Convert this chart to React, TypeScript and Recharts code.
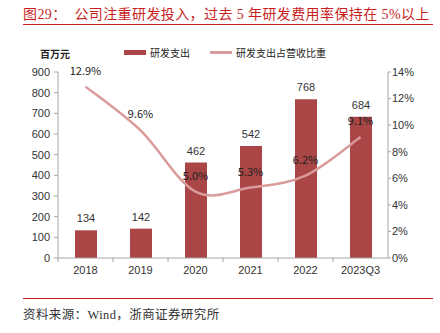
import { Bar, ComposedChart, LabelList, Line, XAxis, YAxis } from 'recharts'

const categories = ['2018', '2019', '2020', '2021', '2022', '2023Q3']
const spend = [134, 142, 462, 542, 768, 684]
const ratio = [12.9, 9.6, 5.0, 5.3, 6.2, 9.1]
const leftTicks = [0, 100, 200, 300, 400, 500, 600, 700, 800, 900]
const rightTicks = [0, 2, 4, 6, 8, 10, 12, 14]

const data = categories.map((c, i) => ({ name: c, spend: spend[i], ratio: ratio[i] }))

const BAR = '#AA4645'
const LINE = '#D99B9B'
const RED = '#C81E1E'
const AXIS = '#A6A6A6'
const W = 440
const H = 333
const LEFT_W = 58
const RIGHT_W = 52
const band = (W - LEFT_W - RIGHT_W) / categories.length

const tickFont = { fontSize: 11, fill: '#333', fontFamily: '"Liberation Sans", Arial, sans-serif' }

// Catmull-Rom style smoothing, close to the spreadsheet "smoothed line"
function smooth(context: any) {
  let pts: number[][] = []
  return {
    areaStart() {},
    areaEnd() {},
    lineStart() {
      pts = []
    },
    point(x: number, y: number) {
      pts.push([+x, +y])
    },
    lineEnd() {
      if (!pts.length) return
      context.moveTo(pts[0][0], pts[0][1])
      for (let i = 0; i < pts.length - 1; i++) {
        const p0 = pts[i - 1] || pts[i]
        const p1 = pts[i]
        const p2 = pts[i + 1]
        const p3 = pts[i + 2] || pts[i + 1]
        context.bezierCurveTo(
          p1[0] + (p2[0] - p0[0]) / 6,
          p1[1] + (p2[1] - p0[1]) / 6,
          p2[0] - (p3[0] - p1[0]) / 6,
          p2[1] - (p3[1] - p1[1]) / 6,
          p2[0],
          p2[1],
        )
      }
    },
  }
}

function XTick({ x, y, payload }: any) {
  return (
    <g>
      <line x1={x - band / 2} x2={x - band / 2} y1={y} y2={y + 4} stroke={AXIS} />
      <text x={x} y={y + 16} textAnchor="middle" {...tickFont}>
        {payload.value}
      </text>
    </g>
  )
}

export default function App() {
  return (
    <div
      style={{
        position: 'fixed',
        left: 0,
        top: 0,
        width: W,
        height: H,
        background: '#fff',
        fontFamily: '"Liberation Serif", "Noto Sans CJK SC", serif',
      }}
    >
      <div
        style={{
          position: 'absolute',
          left: 23,
          top: 3,
          fontSize: 14,
          letterSpacing: 0.4,
          color: RED,
          whiteSpace: 'nowrap',
        }}
      >
        图29：&nbsp;&nbsp;公司注重研发投入，过去 5 年研发费用率保持在 5%以上
      </div>
      <div style={{ position: 'absolute', left: 23, top: 24, width: 410, height: 1, background: RED }} />

      <div style={{ position: 'absolute', left: 40, top: 46, fontSize: 10, fontWeight: 'bold', color: '#222' }}>百万元</div>
      <div style={{ position: 'absolute', left: 124, top: 50, width: 22, height: 5, background: BAR }} />
      <div style={{ position: 'absolute', left: 150, top: 45, fontSize: 10, color: '#222' }}>研发支出</div>
      <div style={{ position: 'absolute', left: 210, top: 51, width: 22, height: 2.5, background: LINE }} />
      <div style={{ position: 'absolute', left: 236, top: 45, fontSize: 10, color: '#222' }}>研发支出占营收比重</div>

      <div style={{ position: 'absolute', left: 0, top: 0 }}>
        <ComposedChart width={W} height={H} data={data} margin={{ top: 72, right: 0, left: 0, bottom: 55 }}>
          <XAxis
            dataKey="name"
            height={20}
            stroke={AXIS}
            tickLine={false}
            tickSize={0}
            tickMargin={0}
            tick={<XTick />}
            interval={0}
          />
          <YAxis
            yAxisId="left"
            width={LEFT_W}
            domain={[0, 900]}
            ticks={leftTicks}
            stroke={AXIS}
            tickSize={4}
            tickMargin={4}
            tick={tickFont}
            interval={0}
          />
          <YAxis
            yAxisId="right"
            orientation="right"
            width={RIGHT_W}
            domain={[0, 14]}
            ticks={rightTicks}
            stroke={AXIS}
            tickSize={3}
            tickMargin={1}
            tick={tickFont}
            tickFormatter={(v: number) => `${v}%`}
            interval={0}
          />
          <Bar yAxisId="left" dataKey="spend" fill={BAR} barSize={22} isAnimationActive={false}>
            <LabelList dataKey="spend" position="top" offset={8} style={{ ...tickFont, fontSize: 11 }} />
          </Bar>
          <Line
            yAxisId="right"
            dataKey="ratio"
            type={smooth as any}
            stroke={LINE}
            strokeWidth={2.5}
            dot={false}
            isAnimationActive={false}
          >
            <LabelList
              dataKey="ratio"
              position="top"
              offset={12}
              formatter={(v: any) => `${Number(v).toFixed(1)}%`}
              style={{ fontSize: 11, fill: '#222', fontFamily: '"Noto Sans CJK SC", sans-serif' }}
            />
          </Line>
        </ComposedChart>
      </div>

      <div style={{ position: 'absolute', left: 23, top: 298, width: 410, height: 1, background: RED }} />
      <div
        style={{
          position: 'absolute',
          left: 23,
          top: 304,
          fontSize: 12.5,
          letterSpacing: 0.4,
          color: '#333',
          whiteSpace: 'nowrap',
        }}
      >
        资料来源：Wind，浙商证券研究所
      </div>
    </div>
  )
}
